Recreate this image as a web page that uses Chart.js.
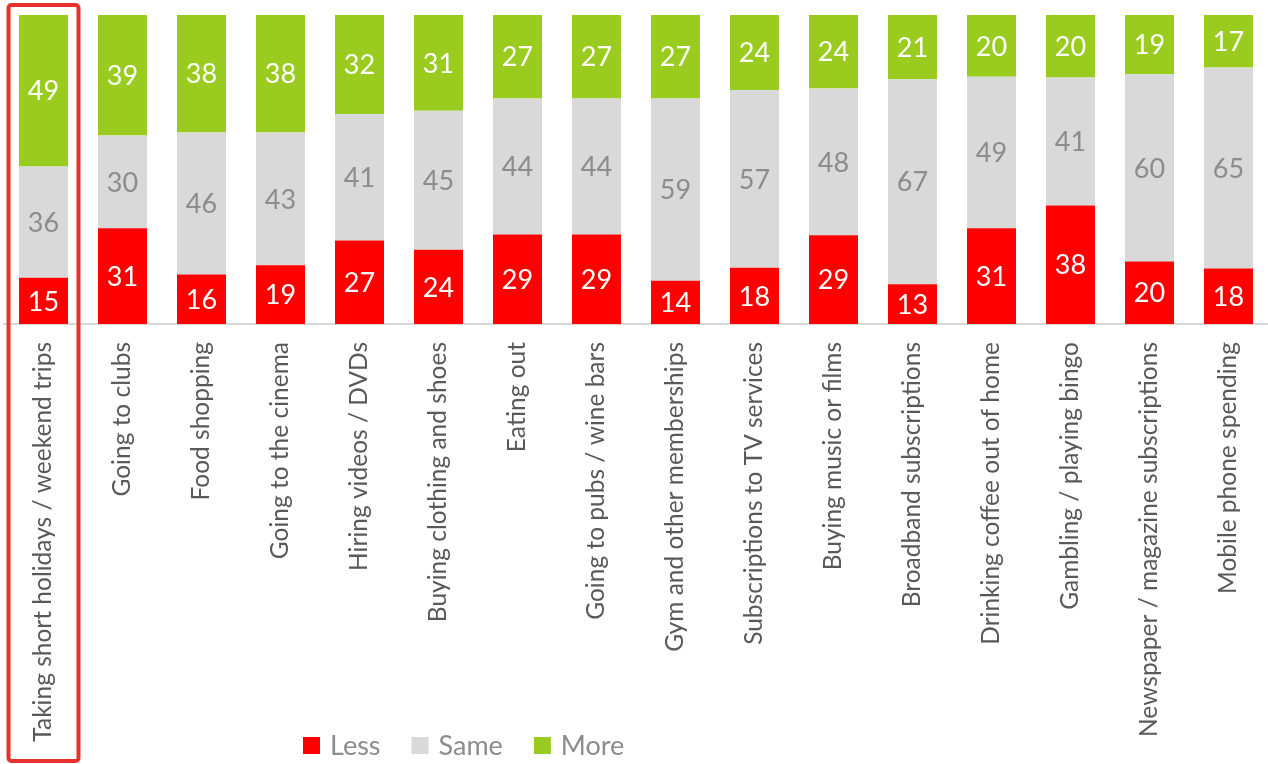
<!DOCTYPE html>
<html>
<head>
<meta charset="utf-8">
<script src="https://cdn.jsdelivr.net/npm/chart.js@4.4.1/dist/chart.umd.min.js"></script>
<style>
  html, body { margin: 0; padding: 0; background: #fff; }
  #wrap { width: 1268px; height: 764px; position: relative; }
</style>
</head>
<body>
<div id="wrap"><canvas id="myChart"></canvas></div>
<script>
const categories = [
  'Taking short holidays / weekend trips',
  'Going to clubs',
  'Food shopping',
  'Going to the cinema',
  'Hiring videos / DVDs',
  'Buying clothing and shoes',
  'Eating out',
  'Going to pubs / wine bars',
  'Gym and other memberships',
  'Subscriptions to TV services',
  'Buying music or films',
  'Broadband subscriptions',
  'Drinking coffee out of home',
  'Gambling / playing bingo',
  'Newspaper / magazine subscriptions',
  'Mobile phone spending'
];
const lessValues = [15, 31, 16, 19, 27, 24, 29, 29, 14, 18, 29, 13, 31, 38, 20, 18];
const sameValues = [36, 30, 46, 43, 41, 45, 44, 44, 59, 57, 48, 67, 49, 41, 60, 65];
const moreValues = [49, 39, 38, 38, 32, 31, 27, 27, 27, 24, 24, 21, 20, 20, 19, 17];

const seriesNames = ['Less', 'Same', 'More'];
const seriesColors = ['#ff0000', '#d9d9d9', '#99cc1f'];
const labelColors = ['#ffffff', '#8c8c8c', '#ffffff'];
const FONT = 'Lato, Calibri, sans-serif';

// 100% stacked, like the original
function share(values) {
  return values.map(function(v, i) {
    return v / (lessValues[i] + sameValues[i] + moreValues[i]) * 100;
  });
}
const raw = [lessValues, sameValues, moreValues];

const valueLabels = {
  id: 'valueLabels',
  afterDatasetsDraw(chart) {
    const ctx = chart.ctx;
    ctx.save();
    ctx.font = '27px ' + FONT;
    ctx.textAlign = 'center';
    ctx.textBaseline = 'middle';
    chart.data.datasets.forEach(function(ds, d) {
      const meta = chart.getDatasetMeta(d);
      meta.data.forEach(function(bar, i) {
        const p = bar.getProps(['x', 'y', 'base'], true);
        ctx.fillStyle = labelColors[d];
        ctx.fillText(String(raw[d][i]), p.x, (p.y + p.base) / 2 + 1);
      });
    });
    ctx.restore();
  }
};

const extras = {
  id: 'extras',
  afterDraw(chart) {
    const ctx = chart.ctx;
    const x = chart.scales.x;
    ctx.save();
    // highlight box round the first category
    const cx = x.getPixelForValue(0);
    const half = 35;
    ctx.strokeStyle = '#e8312d';
    ctx.lineWidth = 4;
    ctx.beginPath();
    ctx.roundRect(cx - half, 5, half * 2, 756, 3);
    ctx.stroke();

    // legend
    ctx.font = '27px ' + FONT;
    ctx.textBaseline = 'middle';
    ctx.textAlign = 'left';
    const ly = 745;
    let px = 303;
    seriesNames.forEach(function(name, d) {
      ctx.fillStyle = seriesColors[d];
      ctx.fillRect(px, ly - 8, 17, 17);
      ctx.fillStyle = '#8c8c8c';
      ctx.fillText(name, px + 27, ly + 1);
      px += 27 + ctx.measureText(name).width + 31;
    });
    ctx.restore();
  }
};

const ctx = document.getElementById('myChart').getContext('2d');
const config = {
  type: 'bar',
  data: {
    labels: categories,
    datasets: raw.map(function(vals, d) {
      return {
        label: seriesNames[d],
        data: share(vals),
        backgroundColor: seriesColors[d],
        borderWidth: 0,
        barPercentage: 0.62,
        categoryPercentage: 1
      };
    })
  },
  options: {
    responsive: true,
    maintainAspectRatio: false,
    animation: false,
    layout: { padding: { top: 15, left: 4, right: 0, bottom: 0 } },
    plugins: {
      legend: { display: false },
      tooltip: { enabled: false }
    },
    scales: {
      x: {
        stacked: true,
        grid: { display: false },
        border: { display: true, color: '#d9d9d9', width: 2 },
        ticks: {
          minRotation: 90,
          maxRotation: 90,
          autoSkip: false,
          padding: 10,
          color: '#595959',
          font: { family: FONT, size: 24.5 }
        },
        afterFit(scale) { scale.height = 440; }
      },
      y: {
        stacked: true,
        display: false,
        min: 0,
        max: 100
      }
    }
  },
  plugins: [valueLabels, extras]
};
const myChart = new Chart(ctx, config);
</script>
</body>
</html>
